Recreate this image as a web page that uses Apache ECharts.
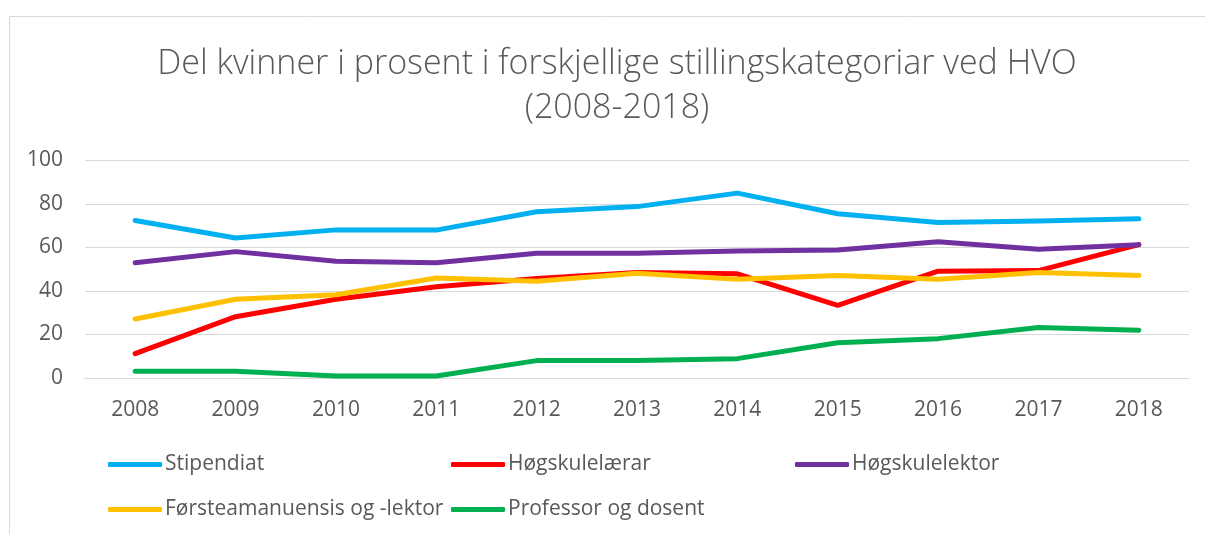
<!DOCTYPE html>
<html>
<head>
<meta charset="utf-8">
<script src="https://cdn.jsdelivr.net/npm/echarts@6/dist/echarts.min.js"></script>
<style>
  html, body { margin: 0; padding: 0; background: #fff; }
  #chart { width: 1205px; height: 534px; }
</style>
</head>
<body>
<div id="chart"></div>
<script>
// år
var years = ['2008', '2009', '2010', '2011', '2012', '2013', '2014', '2015', '2016', '2017', '2018'];
// del kvinner i prosent per stillingskategori
var stipendiat = [72.4, 64.4, 68.1, 68, 76.4, 78.8, 85, 75.5, 71.5, 72.2, 73.2];
var hogskulelaerar = [11.2, 28.2, 36.2, 42, 45.7, 48.5, 47.9, 33.4, 49.1, 49.4, 61.3];
var hogskulelektor = [53, 58.1, 53.7, 53, 57.4, 57.4, 58.4, 58.9, 62.6, 59.2, 61.3];
var forsteamanuensis = [27.1, 36.2, 38.3, 46, 44.5, 48.2, 45.4, 47.1, 45.4, 48.5, 47.1];
var professor = [3.1, 3.1, 0.9, 0.9, 8, 8, 8.9, 16.2, 18.1, 23.2, 22];
var yTicks = [0, 100, 20]; // min, max, interval

var names = ['Stipendiat', 'Høgskulelærar', 'Høgskulelektor', 'Førsteamanuensis og -lektor', 'Professor og dosent'];
var colors = ['#00b0f0', '#ff0000', '#7030a0', '#ffc000', '#00b050'];
var values = [stipendiat, hogskulelaerar, hogskulelektor, forsteamanuensis, professor];

var font = '"Open Sans", "Noto Sans", sans-serif';
var textColor = '#595959';

var myChart = echarts.init(document.getElementById('chart'));

// legend plassering (tre kolonnar, to rader)
var legendPos = [[108, 454], [451, 454], [795, 454], [108, 499], [451, 499]];
var legends = names.map(function (n, i) {
  return {
    data: [n],
    left: legendPos[i][0],
    top: legendPos[i][1],
    icon: 'roundRect',
    itemWidth: 54,
    itemHeight: 5,
    itemGap: 0,
    padding: 0,
    textStyle: { fontFamily: font, fontSize: 21, color: textColor, padding: [0, 0, 0, -2] }
  };
});

var option = {
  animation: false,
  color: colors,
  title: {
    text: 'Del kvinner i prosent i forskjellige stillingskategoriar ved HVO\n(2008-2018)',
    left: 612,
    textAlign: 'center',
    top: 37,
    textStyle: {
      fontFamily: font,
      fontSize: 34,
      fontWeight: 300,
      color: textColor,
      lineHeight: 44
    }
  },
  legend: legends,
  graphic: [{
    type: 'rect',
    shape: { x: 9.5, y: 16.5, width: 1300, height: 600 },
    style: { fill: 'none', stroke: '#d9d9d9', lineWidth: 1 },
    silent: true
  }],
  grid: { left: 85, right: 16, top: 160.5, bottom: 156 },
  xAxis: {
    type: 'category',
    data: years,
    boundaryGap: true,
    axisLine: { lineStyle: { color: '#d9d9d9' } },
    axisTick: { show: false },
    axisLabel: { fontFamily: font, fontSize: 21, color: textColor, margin: 22 }
  },
  yAxis: {
    type: 'value',
    min: yTicks[0],
    max: yTicks[1],
    interval: yTicks[2],
    axisLine: { show: false },
    axisTick: { show: false },
    splitLine: { lineStyle: { color: '#d9d9d9', width: 1 } },
    axisLabel: { fontFamily: font, fontSize: 21, color: textColor, margin: 22 }
  },
  series: names.map(function (n, i) {
    return {
      name: n,
      type: 'line',
      data: values[i],
      symbol: 'none',
      lineStyle: { width: 5, cap: 'round', join: 'round' },
      emphasis: { disabled: true }
    };
  })
};
myChart.setOption(option);
</script>
</body>
</html>
